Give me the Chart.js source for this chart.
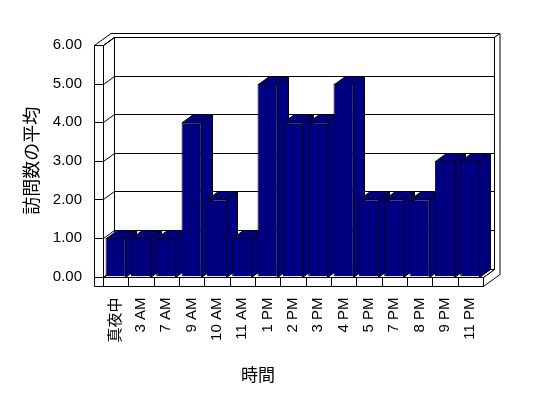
<!DOCTYPE html>
<html>
<head>
<meta charset="utf-8">
<script src="https://cdn.jsdelivr.net/npm/chart.js@4"></script>
<style>
  body { margin: 0; background: #fff; }
  canvas { display: block; }
</style>
</head>
<body>
<canvas id="myChart" width="548" height="398"></canvas>
<script>
// data
const categories = ['真夜中', '3 AM', '7 AM', '9 AM', '10 AM', '11 AM', '1 PM', '2 PM', '3 PM', '4 PM', '5 PM', '7 PM', '8 PM', '9 PM', '11 PM'];
const visits = [1, 1, 1, 4, 2, 1, 5, 4, 4, 5, 2, 2, 2, 3, 3];
const yTicks = [0, 1, 2, 3, 4, 5, 6];

const xTitle = '時間';
const yTitle = '訪問数の平均';

// 3d look
const DX = 11, DY = -8, WALL = 9;
const BAR = '#000080';

function poly(ctx, pts, fill) {
    ctx.beginPath();
    ctx.moveTo(pts[0][0], pts[0][1]);
    for (let i = 1; i < pts.length; i++) ctx.lineTo(pts[i][0], pts[i][1]);
    ctx.closePath();
    ctx.fillStyle = fill;
    ctx.fill();
    ctx.stroke();
}

function line(ctx, x1, y1, x2, y2) {
    ctx.beginPath();
    ctx.moveTo(x1, y1);
    ctx.lineTo(x2, y2);
    ctx.stroke();
}

const box3d = {
    id: 'box3d',
    beforeDatasetsDraw(chart) {
        const ctx = chart.ctx;
        const a = chart.chartArea;
        const xs = chart.scales.x, ys = chart.scales.y;
        const L = Math.round(a.left) + 0.5, R = Math.round(a.right) + 0.5;
        const T = Math.round(ys.getPixelForValue(yTicks[yTicks.length - 1])) + 0.5;
        const B = Math.round(ys.getPixelForValue(0)) + 0.5;
        const dx2 = DX * 1.5, dy2 = DY * 1.5;

        ctx.save();
        ctx.strokeStyle = '#000';
        ctx.lineWidth = 1;

        // back wall
        poly(ctx, [[L + DX, T + DY], [R + DX, T + DY], [R + DX, B + DY], [L + DX, B + DY]], '#fff');
        // top rim (left wall top + back wall top)
        poly(ctx, [[L - WALL, T], [L, T], [L + DX, T + DY], [R + DX, T + DY],
                   [R + dx2, T + dy2], [L - WALL + dx2, T + dy2]], '#fff');
        // right rim (back wall side + floor side)
        poly(ctx, [[R + DX, T + DY], [R + dx2, T + dy2], [R + dx2, B + WALL + dy2],
                   [R, B + WALL], [R, B], [R + DX, B + DY]], '#fff');
        // floor top
        poly(ctx, [[L, B], [R, B], [R + DX, B + DY], [L + DX, B + DY]], '#fff');
        // left wall inner face
        poly(ctx, [[L, T], [L + DX, T + DY], [L + DX, B + DY], [L, B]], '#fff');
        // left wall front
        poly(ctx, [[L - WALL, T], [L, T], [L, B + WALL], [L - WALL, B + WALL]], '#fff');
        // floor front
        poly(ctx, [[L, B], [R, B], [R, B + WALL], [L, B + WALL]], '#fff');

        // grid lines
        yTicks.forEach(v => {
            const yy = Math.round(ys.getPixelForValue(v)) + 0.5;
            line(ctx, L - WALL, yy, L, yy);
            line(ctx, L, yy, L + DX, yy + DY);
            line(ctx, L + DX, yy + DY, R + DX, yy + DY);
        });

        // category dividers on floor front
        for (let i = 1; i < categories.length; i++) {
            const bx = Math.round((xs.getPixelForValue(i - 1) + xs.getPixelForValue(i)) / 2) + 0.5;
            line(ctx, bx, B, bx, B + WALL);
        }

        // bar tops and sides
        const meta = chart.getDatasetMeta(0);
        meta.data.forEach(bar => {
            const p = bar.getProps(['x', 'y', 'base', 'width'], true);
            const left = Math.round(p.x - p.width / 2) + 0.5;
            const right = Math.round(p.x + p.width / 2) - 0.5;
            const top = Math.round(p.y) + 0.5;
            const base = Math.round(p.base) + 0.5;
            poly(ctx, [[left, top], [right, top], [right + DX, top + DY], [left + DX, top + DY]], BAR);
            poly(ctx, [[right, top], [right + DX, top + DY], [right + DX, base + DY], [right, base]], BAR);
        });

        ctx.restore();
    }
};

Chart.defaults.color = '#000';
Chart.defaults.font.family = '"Liberation Sans", "Noto Sans CJK JP", sans-serif';
Chart.defaults.font.size = 15;

new Chart('myChart', {
    type: 'bar',
    data: {
        labels: categories,
        datasets: [{
            label: yTitle,
            data: visits,
            backgroundColor: BAR,
            borderColor: '#000',
            borderWidth: 1,
            barPercentage: 0.8,
            categoryPercentage: 1
        }]
    },
    options: {
        responsive: false,
        animation: false,
        layout: { padding: { left: 0, right: 32, top: 45, bottom: 5 } },
        plugins: {
            legend: { display: false },
            tooltip: { enabled: false },
            title: {
                display: true,
                position: 'bottom',
                text: xTitle,
                color: '#000',
                font: { family: '"Noto Sans CJK JP", sans-serif', size: 17, weight: 'normal' },
                padding: { top: 8, bottom: 8 }
            }
        },
        scales: {
            x: {
                grid: { display: false, drawTicks: false },
                border: { display: false },
                ticks: { minRotation: 90, maxRotation: 90, autoSkip: false, padding: 21 },
                afterFit(s) { s.height = 80; }
            },
            y: {
                min: 0,
                max: 6,
                grid: { display: false, drawTicks: false },
                border: { display: false },
                ticks: { stepSize: 1, padding: 21, callback: v => v.toFixed(2) },
                title: {
                    display: true,
                    text: yTitle,
                    color: '#000',
                    font: { family: '"Noto Sans CJK JP", sans-serif', size: 18 },
                    padding: { top: 20, bottom: 0 }
                },
                afterFit(s) { s.width = 103; }
            },
            y2: {
                position: 'right',
                display: true,
                grid: { display: false, drawTicks: false },
                border: { display: false },
                ticks: { display: false },
                afterFit(s) { s.width = 33; }
            }
        }
    },
    plugins: [box3d]
});
</script>
</body>
</html>
